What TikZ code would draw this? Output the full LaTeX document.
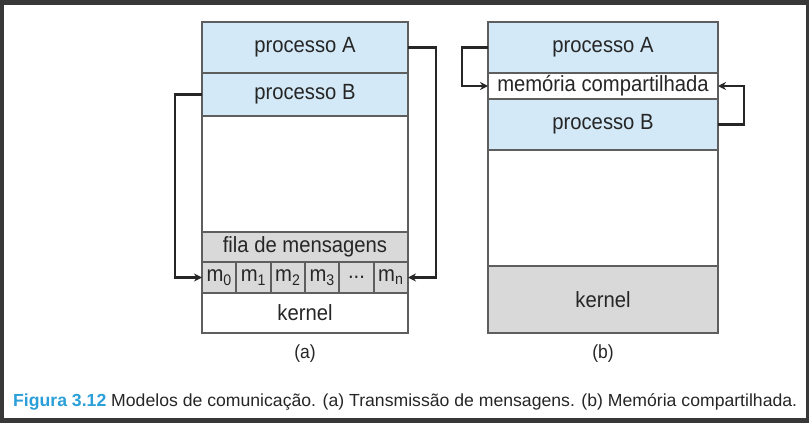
\documentclass[tikz,border=0pt]{standalone}
\usepackage{fontspec}
\setmainfont{Liberation Sans}
\newfontfamily\condfont[FakeStretch=0.92]{Liberation Sans}
\usetikzlibrary{arrows.meta}
\definecolor{procblue}{HTML}{D3E9F7}
\definecolor{kgray}{HTML}{D9D9D9}
\definecolor{edgegray}{HTML}{5E5E5E}
\definecolor{txt}{HTML}{262626}
\definecolor{frame}{HTML}{383838}
\definecolor{capblue}{HTML}{2A9FD8}
\tikzset{
  box/.style={draw=edgegray, line width=1.8pt, rectangle, inner sep=0pt, outer sep=0pt,
    text=txt, font=\condfont\fontsize{22}{24}\selectfont},
  cell/.style={box, fill=kgray, minimum width=34.333pt, minimum height=31pt},
  conn/.style={draw=black!85, line width=2.4pt, -{Stealth[length=8pt,width=8pt]}},
  lbl/.style={text=txt, font=\condfont\fontsize{19}{22}\selectfont}
}
\begin{document}
\begin{tikzpicture}[x=1pt,y=-1pt]
\useasboundingbox (0,0) rectangle (809,423);
\fill[frame] (0,0) rectangle (809,423);
\fill[white] (4,5) rectangle (806,418);
% (a)
\node[box, fill=procblue, minimum width=206pt, minimum height=51pt] (pA) at (305,47.5) {processo A};
\node[box, fill=procblue, minimum width=206pt, minimum height=43pt] (pB) at (305,94.5) {processo B};
\node[box, fill=white, minimum width=206pt, minimum height=116pt] (ea) at (305,174) {};
\node[box, fill=kgray, minimum width=206pt, minimum height=30pt] (fila) at (305,247) {fila de mensagens};
\node[cell] (m0) at (219.167,277.5) {m\textsubscript{0}};
\node[cell] (m1) at (253.5,277.5) {m\textsubscript{1}};
\node[cell] (m2) at (287.833,277.5) {m\textsubscript{2}};
\node[cell] (m3) at (322.167,277.5) {m\textsubscript{3}};
\node[cell] (m4) at (356.5,277.5) {...};
\node[cell] (m5) at (390.833,277.5) {m\textsubscript{n}};
\node[box, fill=white, minimum width=206pt, minimum height=40pt] (ka) at (305,313) {kernel};
\coordinate (l1) at (175,94.5);
\coordinate (l2) at (175,277.5);
\coordinate (r1) at (436,47.5);
\coordinate (r2) at (436,277.5);
\draw[conn] (pB.west) -- (l1) -- (l2) -- (m0.west);
\draw[conn] (pA.east) -- (r1) -- (r2) -- (m5.east);
\node[lbl] (la) at (305,354) {(a)};
% (b)
\node[box, fill=procblue, minimum width=230pt, minimum height=51pt] (qA) at (603,47.5) {processo A};
\node[box, fill=white, minimum width=230pt, minimum height=26pt] (mem) at (603,86) {memória compartilhada};
\node[box, fill=procblue, minimum width=230pt, minimum height=51pt] (qB) at (603,124.5) {processo B};
\node[box, fill=white, minimum width=230pt, minimum height=116pt] (eb) at (603,208) {};
\node[box, fill=kgray, minimum width=230pt, minimum height=67pt] (kb) at (603,299.5) {kernel};
\coordinate (s1) at (462,47.5);
\coordinate (s2) at (462,86);
\coordinate (t1) at (744,124.5);
\coordinate (t2) at (744,86);
\draw[conn] (qA.west) -- (s1) -- (s2) -- (mem.west);
\draw[conn] (qB.east) -- (t1) -- (t2) -- (mem.east);
\node[lbl] (lb) at (603,354) {(b)};
% caption
\node[anchor=base west, inner sep=0pt, text=txt] (cap) at (13,406)
  {\resizebox{784pt}{\height}{\fontsize{17.5}{20}\selectfont\textcolor{capblue}{\textbf{Figura 3.12}} Modelos de comunicação. (a) Transmissão de mensagens. (b) Memória compartilhada.}};
\end{tikzpicture}
\end{document}
